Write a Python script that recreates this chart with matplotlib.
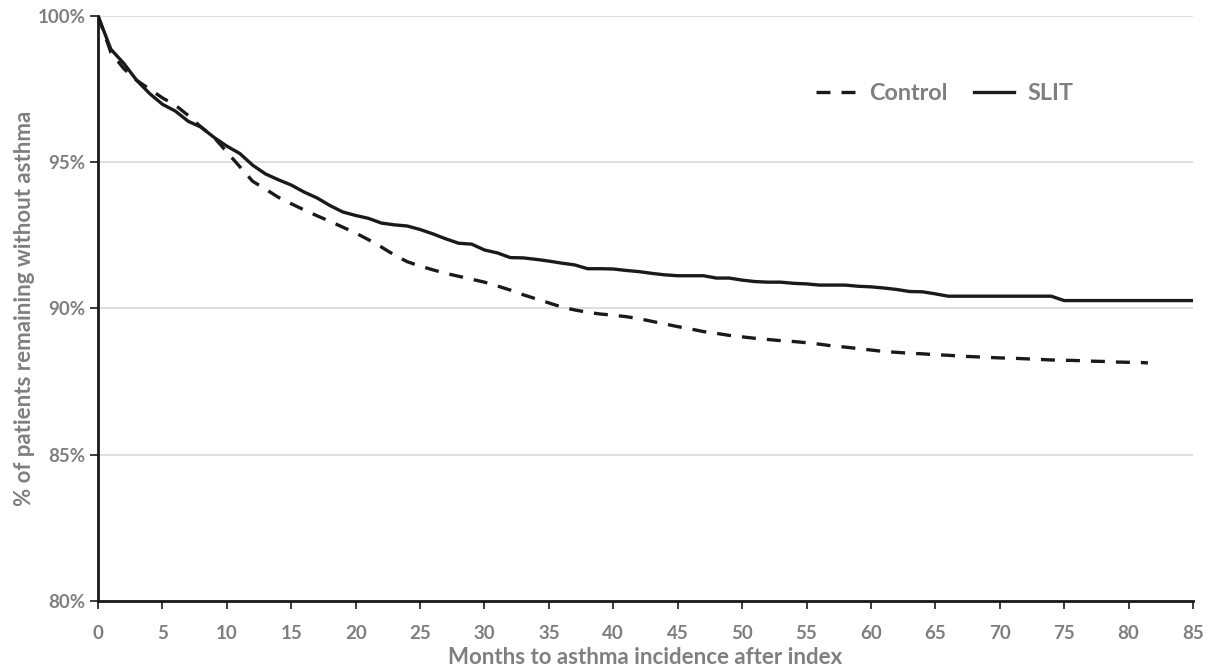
import numpy as np
import matplotlib
matplotlib.use("Agg")
import matplotlib.pyplot as plt
from matplotlib.ticker import FuncFormatter, MultipleLocator

plt.rcParams['font.family'] = ['Lato', 'DejaVu Sans']

# ---------------- DATA ---------------- #
control_months = [0, 1, 2, 3, 4, 5, 6, 7, 8, 9, 10, 11, 12, 13, 14, 15, 16, 17, 18, 19,
                  20, 21, 22, 23, 24, 25, 26, 27, 28, 29, 30, 31, 32, 33, 34, 35, 36, 37, 38, 39,
                  40, 41, 42, 43, 44, 45, 46, 47, 48, 49, 50, 51, 52, 53, 54, 55, 56, 57, 58, 59,
                  60, 61, 62, 63, 64, 65, 66, 67, 68, 69, 70, 71, 72, 73, 74, 75, 76, 77, 78, 79,
                  80, 81, 81.5]
control_pct = [100, 98.75, 98.2, 97.8, 97.5, 97.2, 96.95, 96.6, 96.2, 95.85,
               95.35, 94.85, 94.35, 94.08, 93.8, 93.58, 93.37, 93.17, 92.98, 92.78,
               92.58, 92.35, 92.1, 91.83, 91.6, 91.45, 91.32, 91.2, 91.1, 91.0,
               90.9, 90.77, 90.63, 90.47, 90.33, 90.19, 90.05, 89.95, 89.87, 89.81,
               89.77, 89.72, 89.65, 89.56, 89.47, 89.38, 89.3, 89.21, 89.15, 89.08,
               89.03, 88.98, 88.94, 88.9, 88.87, 88.83, 88.78, 88.72, 88.68, 88.63,
               88.58, 88.53, 88.5, 88.47, 88.45, 88.42, 88.4, 88.37, 88.35, 88.33,
               88.31, 88.3, 88.28, 88.26, 88.24, 88.23, 88.22, 88.2, 88.19, 88.17,
               88.16, 88.15, 88.14]

slit_months = [0, 1, 2, 3, 4, 5, 6, 7, 8, 9, 10, 11, 12, 13, 14, 15, 16, 17, 18, 19,
               20, 21, 22, 23, 24, 25, 26, 27, 28, 29, 30, 31, 32, 33, 34, 35, 36, 37, 38, 39,
               40, 41, 42, 43, 44, 45, 46, 47, 48, 49, 50, 51, 52, 53, 54, 55, 56, 57, 58, 59,
               60, 61, 62, 63, 64, 65, 66, 74, 75, 85]
slit_pct = [100, 98.86, 98.38, 97.8, 97.35, 96.98, 96.75, 96.4, 96.2, 95.85,
            95.55, 95.3, 94.9, 94.6, 94.4, 94.22, 93.98, 93.78, 93.52, 93.3,
            93.18, 93.08, 92.92, 92.86, 92.82, 92.7, 92.55, 92.38, 92.23, 92.2,
            92.0, 91.9, 91.74, 91.73, 91.68, 91.62, 91.55, 91.49, 91.36, 91.36,
            91.35, 91.3, 91.26, 91.2, 91.15, 91.12, 91.12, 91.12, 91.04, 91.04,
            90.97, 90.92, 90.9, 90.9, 90.86, 90.84, 90.8, 90.8, 90.8, 90.76,
            90.74, 90.7, 90.65, 90.58, 90.57, 90.5, 90.42, 90.42, 90.27, 90.27]

x_ticks = list(range(0, 90, 5))

# ---------------- PLOT ---------------- #
grey = "#7f7f7f"
fig = plt.figure(figsize=(12.12, 6.72), dpi=100)
ax = fig.add_axes([0.0809, 0.1057, 0.9034, 0.8705])

ax.plot(control_months, control_pct, color="#1a1a1a", lw=2.4,
        linestyle=(0, (4.2, 3.3)), label="Control")
ax.plot(slit_months, slit_pct, color="#1a1a1a", lw=2.4, label="SLIT")

ax.set_xlim(0, 85)
ax.set_ylim(80, 100)
ax.set_xticks(x_ticks)
ax.yaxis.set_major_locator(MultipleLocator(5))
ax.yaxis.set_major_formatter(FuncFormatter(lambda v, p: f"{v:.0f}%"))

ax.grid(axis="y", color="#d9d9d9", lw=1.2)
ax.set_axisbelow(True)
for s in ["top", "right"]:
    ax.spines[s].set_visible(False)
for s in ["left", "bottom"]:
    ax.spines[s].set_linewidth(2)
    ax.spines[s].set_color("#1a1a1a")
    ax.spines[s].set_zorder(3)

ax.tick_params(axis="both", direction="out", length=6, width=1.2, color="#1a1a1a",
               labelcolor=grey, labelsize=13.5)
ax.tick_params(axis="x", pad=11)
ax.tick_params(axis="y", pad=3)
for lab in ax.get_xticklabels() + ax.get_yticklabels():
    lab.set_fontweight("bold")

ax.set_xlabel("Months to asthma incidence after index", color=grey,
              fontsize=16, fontweight="bold", labelpad=4)
ax.set_ylabel("% of patients remaining without asthma", color=grey,
              fontsize=16, fontweight="bold", labelpad=2)

leg = ax.legend(loc="center", bbox_to_anchor=(0.773, 0.868), ncol=2, frameon=False,
                handlelength=1.75, handletextpad=0.55, columnspacing=1.1,
                prop={"weight": "bold", "size": 16.8})
for t in leg.get_texts():
    t.set_color(grey)

fig.savefig("out.png", dpi=100)
